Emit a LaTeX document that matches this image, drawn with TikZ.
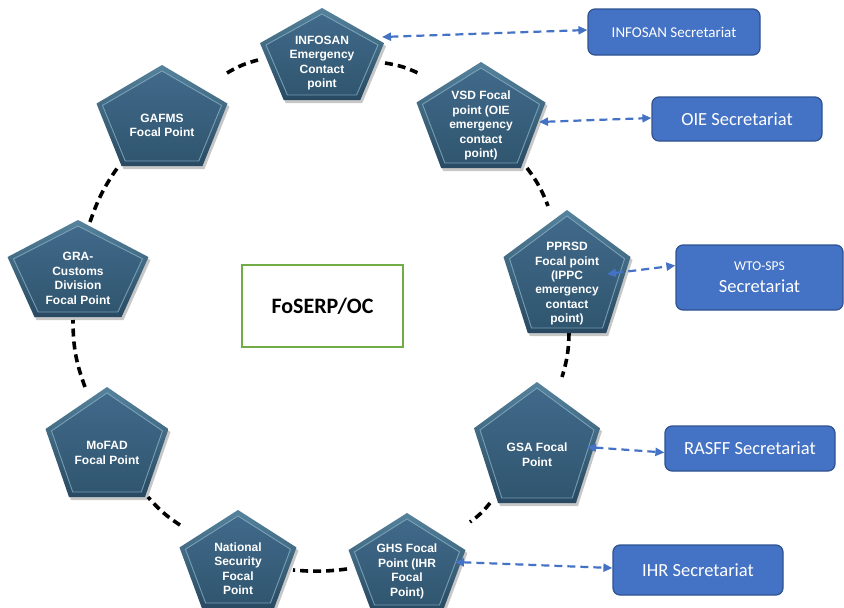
\documentclass[tikz,border=0pt]{standalone}
\usepackage{fontspec}
\setmainfont{Liberation Sans}
\newfontfamily\carlito{Carlito}
\usetikzlibrary{arrows.meta}
\definecolor{pentface}{HTML}{41698A}
\definecolor{pentfacedark}{HTML}{30566F}
\definecolor{pentedge}{HTML}{55829C}
\definecolor{pentedgedark}{HTML}{284961}
\definecolor{pentline}{HTML}{86AEC4}
\definecolor{boxblue}{HTML}{4472C4}
\definecolor{boxborder}{HTML}{2F528F}
\definecolor{boxgreen}{HTML}{70AD47}
\newcommand{\pentpath}[4]{({#1},{-(#2)}) -- ({#1+(#3)/2},{-(#2)-0.382*(#4)}) -- ({#1+0.309*(#3)},{-(#2)-(#4)}) -- ({#1-0.309*(#3)},{-(#2)-(#4)}) -- ({#1-(#3)/2},{-(#2)-0.382*(#4)}) -- cycle}
\newcommand{\mypent}[6]{%
  \fill[black,opacity=0.22] \pentpath{#2+2}{#3+3}{#4}{#5};
  \shade[top color=pentedge,bottom color=pentedgedark] \pentpath{#2}{#3}{#4}{#5};
  \shade[top color=pentface,bottom color=pentfacedark] \pentpath{#2}{#3+6}{#4-12}{#5-11};
  \draw[pentline,line width=0.9pt,opacity=0.8] \pentpath{#2}{#3+6}{#4-12}{#5-11};
  \node[penttext] (#1) at ({#2},{-(#3)-0.6*(#5)}) {#6};
}
\tikzset{
  penttext/.style={text=white, font=\bfseries\fontsize{12}{14.5}\selectfont, align=center, inner sep=0pt},
  ringlink/.style={line width=3.6pt, dash pattern=on 8pt off 5pt, black},
  seclink/.style={boxblue, line width=2.2pt, dash pattern=on 8pt off 5pt, {Triangle[length=9pt,width=8pt]}-{Triangle[length=9pt,width=8pt]}},
  secbox/.style={rectangle, rounded corners=7pt, fill=boxblue, draw=boxborder, line width=1.2pt, text=white, font=\carlito\fontsize{18.5}{22}\selectfont, inner sep=0pt, align=center},
  centerbox/.style={rectangle, draw=boxgreen, line width=2pt, fill=white, font=\carlito\bfseries\fontsize{22}{24}\selectfont, inner sep=0pt}
}
\begin{document}
\begin{tikzpicture}[x=1pt,y=1pt]
\useasboundingbox (0,0) rectangle (844,-608);
\fill[white] (0,0) rectangle (844,-608);

% ring connector end points
\coordinate (gafms-ne) at (227,-73);
\coordinate (infosan-w) at (258,-60);
\coordinate (infosan-e) at (385,-63);
\coordinate (vsd-w) at (418,-73);
\coordinate (vsd-s) at (527,-168);
\coordinate (pprsd-n) at (548,-206);
\coordinate (pprsd-s) at (569,-333);
\coordinate (gsa-n) at (562,-377);
\coordinate (gsa-sw) at (490,-503);
\coordinate (ghs-ne) at (470,-522);
\coordinate (ghs-w) at (347,-569);
\coordinate (natsec-e) at (293,-570);
\coordinate (natsec-nw) at (180,-525);
\coordinate (mofad-se) at (148,-497);
\coordinate (mofad-n) at (85,-387);
\coordinate (gra-s) at (73,-320);
\coordinate (gra-n) at (90,-222);
\coordinate (gafms-s) at (118,-167);

\draw[ringlink] (gafms-ne) to[bend left=8] (infosan-w);
\draw[ringlink] (infosan-e) to[bend left=8] (vsd-w);
\draw[ringlink] (vsd-s) to[bend left=8] (pprsd-n);
\draw[ringlink] (pprsd-s) to[bend left=8] (gsa-n);
\draw[ringlink] (gsa-sw) to[bend left=8] (ghs-ne);
\draw[ringlink] (ghs-w) to[bend left=6] (natsec-e);
\draw[ringlink] (natsec-nw) to[bend left=8] (mofad-se);
\draw[ringlink] (mofad-n) to[bend left=10] (gra-s);
\draw[ringlink] (gra-n) to[bend left=8] (gafms-s);

% pentagons
\mypent{infosan}{322}{8}{124}{92}{INFOSAN\\Emergency\\Contact\\point}
\mypent{vsd}{481}{62}{129}{106}{VSD Focal\\point (OIE\\emergency\\contact\\point)}
\mypent{pprsd}{567}{210}{127}{123}{PPRSD\\Focal point\\(IPPC\\emergency\\contact\\point)}
\mypent{gsa}{537}{382}{126}{121}{GSA Focal\\Point}
\mypent{ghs}{407}{513}{117}{97}{GHS Focal\\Point (IHR\\Focal\\Point)}
\mypent{natsec}{238}{510}{117}{98}{National\\Security\\Focal\\Point}
\mypent{mofad}{107}{387}{123}{110}{MoFAD\\Focal Point}
\mypent{gra}{78}{220}{141}{97}{GRA-\\Customs\\Division\\Focal Point}
\mypent{gafms}{162}{65}{131}{101}{GAFMS\\Focal Point}

% centre box
\node[centerbox, minimum width=161pt, minimum height=82pt] (foserp) at (322.5,-306) {FoSERP/OC};

% secretariat boxes
\node[secbox, minimum width=172pt, minimum height=46pt, font=\carlito\fontsize{15}{18}\selectfont] (infosansec) at (674,-32) {INFOSAN Secretariat};
\node[secbox, minimum width=170pt, minimum height=44pt] (oiesec) at (737,-119) {OIE Secretariat};
\node[secbox, minimum width=167pt, minimum height=65pt] (wtosec) at (759.5,-277.5) {\fontsize{13.5}{16}\selectfont WTO-SPS\\\fontsize{18.5}{22}\selectfont Secretariat};
\node[secbox, minimum width=170pt, minimum height=45pt] (rasffsec) at (750,-448.5) {RASFF Secretariat};
\node[secbox, minimum width=170pt, minimum height=50pt] (ihrsec) at (698,-570) {IHR Secretariat};

% secretariat link end points on pentagons
\coordinate (infosan-a) at (382,-37);
\coordinate (vsd-a) at (539,-122);
\coordinate (pprsd-a) at (607,-274);
\coordinate (gsa-a) at (587,-447);
\coordinate (ghs-a) at (455,-562);

\draw[seclink] (infosan-a) -- ([yshift=2pt]infosansec.west);
\draw[seclink] (vsd-a) -- ([yshift=1pt]oiesec.west);
\draw[seclink] (pprsd-a) -- ([yshift=12pt]wtosec.west);
\draw[seclink] (gsa-a) -- ([yshift=-4pt]rasffsec.west);
\draw[seclink] (ghs-a) -- ([yshift=2pt]ihrsec.west);
\end{tikzpicture}
\end{document}
